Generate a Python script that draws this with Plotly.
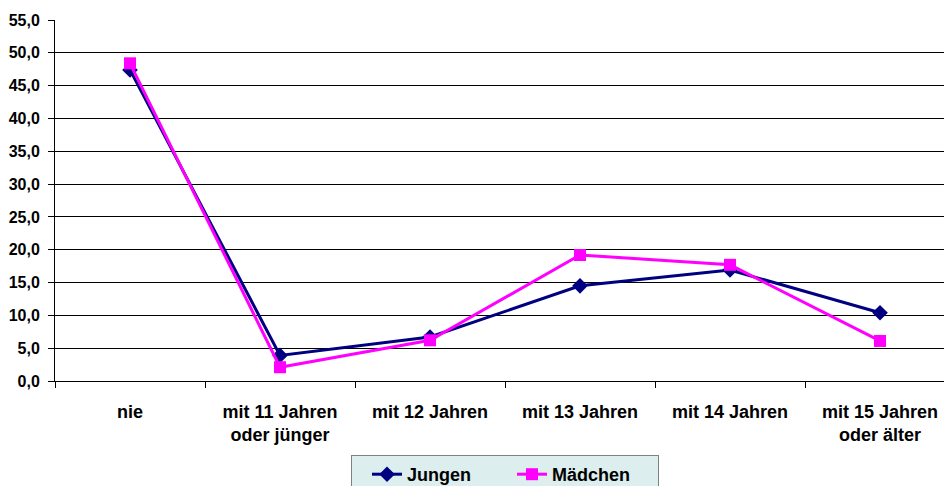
import plotly.graph_objects as go

categories = ["nie", "mit 11 Jahren<br>oder jünger", "mit 12 Jahren", "mit 13 Jahren",
              "mit 14 Jahren", "mit 15 Jahren<br>oder älter"]
jungen = [47.4, 3.9, 6.7, 14.5, 16.9, 10.4]
maedchen = [48.4, 2.1, 6.2, 19.2, 17.7, 6.1]
y_ticks = [0, 5, 10, 15, 20, 25, 30, 35, 40, 45, 50, 55]

font_family = "Liberation Sans, Arial, sans-serif"

fig = go.Figure()
fig.add_trace(go.Scatter(
    x=categories, y=jungen, name="Jungen", mode="lines+markers",
    line=dict(color="#000080", width=3),
    marker=dict(symbol="diamond", size=12, color="#000080"),
))
fig.add_trace(go.Scatter(
    x=categories, y=maedchen, name="Mädchen", mode="lines+markers",
    line=dict(color="#FF00FF", width=3),
    marker=dict(symbol="square", size=12, color="#FF00FF"),
))

fig.update_layout(
    width=944, height=478,
    margin=dict(l=47, r=0, t=12, b=105),
    paper_bgcolor="white", plot_bgcolor="white",
    separators=",.",
    font=dict(family=font_family, size=16, color="black"),
    showlegend=True,
    legend=dict(
        orientation="h", x=343 / 944, xanchor="left", xref="container",
        y=1 - 447 / 478, yanchor="top", yref="container",
        bgcolor="#DDEEEE", bordercolor="#808080", borderwidth=1,
        font=dict(family=font_family, size=18, color="black", weight="bold"),
        title=dict(text="&nbsp;", side="left",
                   font=dict(family=font_family, size=18)),
        entrywidth=100,
    ),
    xaxis=dict(
        type="category",
        range=[-0.5, 5.48],
        showgrid=False, showline=True, linecolor="black", linewidth=1,
        ticks="outside", tickson="boundaries", ticklen=6, tickcolor="black",
        tickfont=dict(family=font_family, size=18, color="black", weight="bold"),
        ticklabelstandoff=14,
        zeroline=False, automargin=False,
    ),
    yaxis=dict(
        range=[0, 55], tickvals=y_ticks, tickformat=".1f",
        showgrid=True, gridcolor="black", gridwidth=1,
        showline=True, linecolor="black", linewidth=1,
        ticks="outside", ticklen=6, tickcolor="black",
        tickfont=dict(family=font_family, size=16, color="black", weight="bold"),
        ticklabelstandoff=5,
        zeroline=False, automargin=False,
    ),
)

fig.write_html("out.html")
